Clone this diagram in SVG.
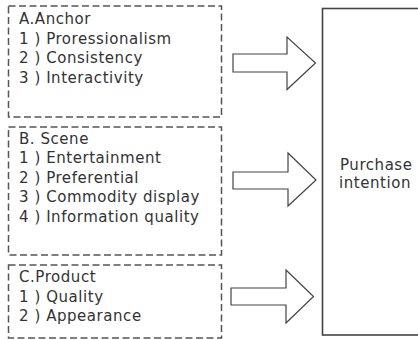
<svg xmlns="http://www.w3.org/2000/svg" width="418" height="340" viewBox="0 0 418 340">
<style>
.box{fill:none;stroke:#555;stroke-width:1.5;stroke-dasharray:7 3.5}
.t{font-family:"DejaVu Sans","Noto Sans",sans-serif;font-size:15px;letter-spacing:0.55px;fill:#333}
.arr{fill:#fff;stroke:#444;stroke-width:1.2;stroke-linejoin:miter}
.main{fill:#fff;stroke:#444;stroke-width:1.6}
</style>
<rect width="418" height="340" fill="#fff"/>
<g id="nodeA">
<rect class="box" x="8.5" y="6" width="213" height="111"/>
<text class="t" x="19" y="24">A.Anchor</text>
<text class="t" x="19" y="43.5">1 ) Proressionalism</text>
<text class="t" x="19" y="63">2 ) Consistency</text>
<text class="t" x="19" y="82.5">3 ) Interactivity</text>
</g>
<g id="nodeB">
<rect class="box" x="8.5" y="127" width="213" height="128"/>
<text class="t" x="19" y="143.5">B. Scene</text>
<text class="t" x="19" y="163">1 ) Entertainment</text>
<text class="t" x="19" y="182.5">2 ) Preferential</text>
<text class="t" x="19" y="202">3 ) Commodity display</text>
<text class="t" x="19" y="221.5">4 ) Information quality</text>
</g>
<g id="nodeC">
<rect class="box" x="8.5" y="265" width="213" height="73"/>
<text class="t" x="19" y="282">C.Product</text>
<text class="t" x="19" y="301.5">1 ) Quality</text>
<text class="t" x="19" y="321">2 ) Appearance</text>
</g>
<g id="nodeP">
<rect class="main" x="322.5" y="8.5" width="100" height="326.5"/>
<text class="t" x="340" y="170">Purchase</text>
<text class="t" x="339" y="188">intention</text>
</g>
<g id="connectors">
<polygon class="arr" points="233,54 287,54 287,37 315.5,63 287,89.5 287,72 233,72"/>
<polygon class="arr" points="233,172 288,172 288,153 316,180 288,206 288,189 233,189"/>
<polygon class="arr" points="231,288 286,288 286,270 313.5,296.5 286,323 286,305 231,305"/>
</g>
</svg>
